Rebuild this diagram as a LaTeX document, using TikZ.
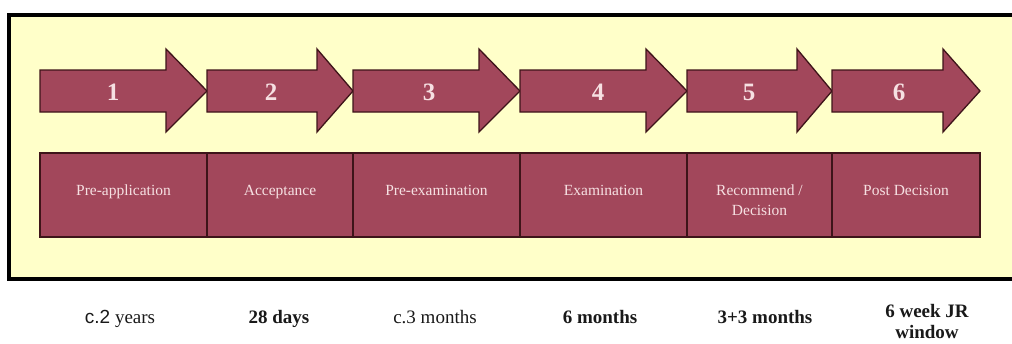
\documentclass[tikz,border=0pt]{standalone}
\usepackage{fontspec}
\setmainfont{Liberation Serif}
\newfontfamily\labsans{Liberation Sans}
\definecolor{maroon}{HTML}{A2475B}
\definecolor{edge}{HTML}{3E1419}
\definecolor{paleyel}{HTML}{FFFFC9}
\definecolor{pinktxt}{HTML}{F6E0E2}
\tikzset{
  stagearrow/.style={fill=maroon, draw=edge, line width=1.3pt, line join=miter},
  stagenum/.style={text=pinktxt, font=\fontsize{25}{25}\selectfont\bfseries, inner sep=0pt},
  stagebox/.style={fill=maroon, draw=edge, line width=1.6pt, inner sep=0pt},
  boxtext/.style={text=pinktxt, font=\fontsize{15.5}{20}\selectfont, align=center, inner sep=0pt, anchor=base},
  timelabel/.style={font=\fontsize{19}{21}\selectfont, align=center, inner sep=0pt, text=black!90, anchor=base},
  boldlabel/.style={timelabel, font=\fontsize{19}{21}\selectfont\bfseries}
}
\begin{document}
\begin{tikzpicture}[x=1pt,y=-1pt]
\useasboundingbox (0,0) rectangle (1012,343);
\fill[white] (0,0) rectangle (1012,343);
% frame
\fill[paleyel] (9,15) rectangle (1012,279);
\draw[line width=3.5pt, line join=miter] (1014,15) -- (9,15) -- (9,279) -- (1014,279);
% arrows: L, H, T
\foreach \L/\H/\T/\n/\nx in {40/166/207/1/113, 207/317/353/2/271, 353/479/520/3/429, 520/646/687/4/598, 687/797/832/5/749, 832/943/980/6/899}{
  \draw[stagearrow] (\L,70) -- (\H,70) -- (\H,49) -- (\T,91) -- (\H,132) -- (\H,112) -- (\L,112) -- cycle;
  \node[stagenum] (num\n) at (\nx,92) {\n};
}
% boxes
\node[stagebox, minimum width=167pt, minimum height=84pt] (b1) at (123.5,195) {};
\node[stagebox, minimum width=146pt, minimum height=84pt] (b2) at (280,195) {};
\node[stagebox, minimum width=167pt, minimum height=84pt] (b3) at (436.5,195) {};
\node[stagebox, minimum width=167pt, minimum height=84pt] (b4) at (603.5,195) {};
\node[stagebox, minimum width=145pt, minimum height=84pt] (b5) at (759.5,195) {};
\node[stagebox, minimum width=148pt, minimum height=84pt] (b6) at (906,195) {};
\node[boxtext] (t1) at (123.5,195) {Pre-application};
\node[boxtext] (t2) at (280,195) {Acceptance};
\node[boxtext] (t3) at (436.5,195) {Pre-examination};
\node[boxtext] (t4) at (603.5,195) {Examination};
\node[boxtext] (t5) at (759.5,215) {Recommend /\\Decision};
\node[boxtext] (t6) at (906,195) {Post Decision};
% time labels
\node[timelabel] (l1) at (120,323.5) {{\labsans c.2} years};
\node[boldlabel] (l2) at (279,323.5) {28 days};
\node[timelabel] (l3) at (435,323.5) {c.3 months};
\node[boldlabel] (l4) at (600,323.5) {6 months};
\node[boldlabel] (l5) at (765,323.5) {3+3 months};
\node[boldlabel] (l6) at (927,338) {6 week JR\\window};
\end{tikzpicture}
\end{document}
